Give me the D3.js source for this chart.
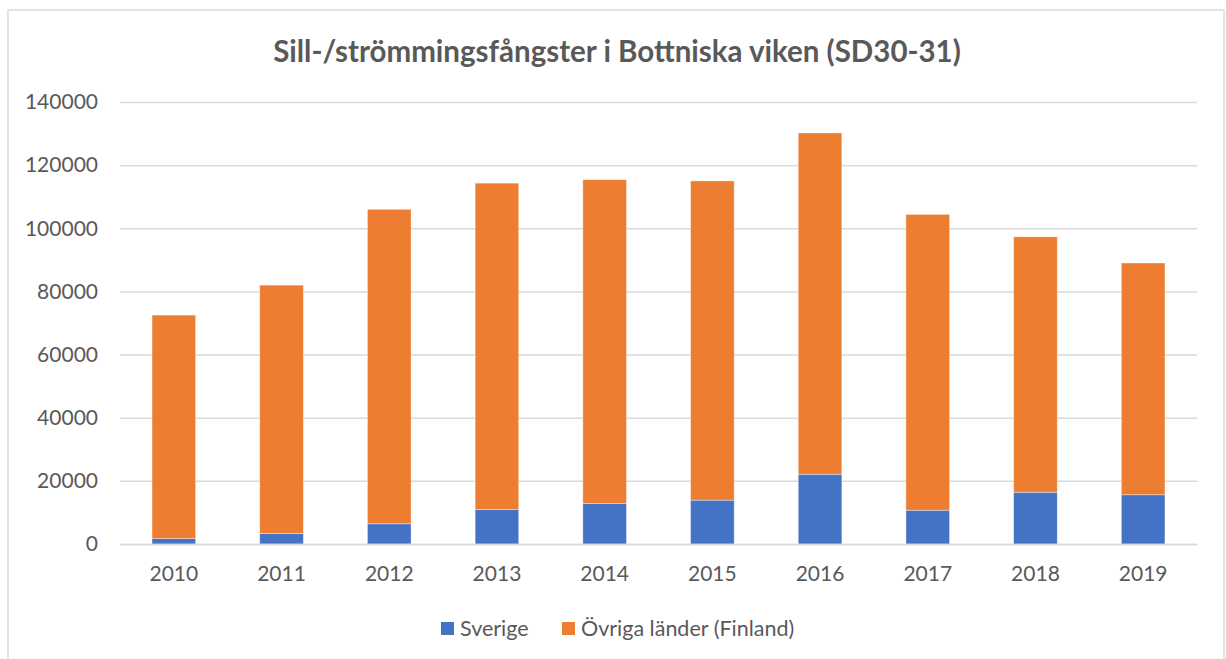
<!DOCTYPE html>
<html>
<head>
<meta charset="utf-8">
<script src="https://cdn.jsdelivr.net/npm/d3@7"></script>
<style>
  body { margin: 0; background: #fff; }
  svg { display: block; font-family: Lato, "Open Sans", sans-serif; }
</style>
</head>
<body>
<div id="chart"></div>
<script>
// values
const years = ['2010', '2011', '2012', '2013', '2014', '2015', '2016', '2017', '2018', '2019'];
const sverige = [1700, 3300, 6400, 10900, 12800, 13900, 22100, 10700, 16400, 15600];
const ovriga = [70800, 78700, 99600, 103400, 102600, 101100, 108100, 93700, 80900, 73400];
const yTicks = [0, 20000, 40000, 60000, 80000, 100000, 120000, 140000];
const seriesNames = ['Sverige', 'Övriga länder (Finland)'];
const colors = ['#4472c4', '#ed7d31'];

const width = 1226, height = 659;
const margin = { top: 102, right: 29, bottom: 115, left: 120 };

const svg = d3.select('#chart').append('svg')
  .attr('width', width)
  .attr('height', height);

// chart border
svg.append('rect')
  .attr('x', 8).attr('y', 10)
  .attr('width', 1216).attr('height', 660)
  .attr('fill', '#fff')
  .attr('stroke', '#d9d9d9')
  .attr('stroke-width', 1.5);

svg.append('text')
  .attr('x', 617).attr('y', 62)
  .attr('text-anchor', 'middle')
  .attr('font-size', 29.5)
  .attr('font-weight', 'bold')
  .attr('fill', '#595959')
  .text('Sill-/strömmingsfångster i Bottniska viken (SD30-31)');

const x = d3.scaleBand()
  .domain(years)
  .range([margin.left, width - margin.right])
  .paddingInner(0.595)
  .paddingOuter(0.2975);

const y = d3.scaleLinear()
  .domain([0, 140000])
  .range([height - margin.bottom, margin.top]);

// gridlines + y labels
const yAxis = d3.axisLeft(y)
  .tickValues(yTicks)
  .tickSize(-(width - margin.left - margin.right))
  .tickFormat(d3.format('d'))
  .tickPadding(22);

const gy = svg.append('g')
  .attr('transform', `translate(${margin.left},0)`)
  .call(yAxis);
gy.select('.domain').remove();
gy.selectAll('.tick line').attr('stroke', '#d9d9d9').attr('stroke-width', 1.5);
gy.selectAll('.tick text')
  .attr('fill', '#595959')
  .attr('font-size', 21)
  .attr('font-family', 'Lato, sans-serif');

// stacked bars
const rows = years.map((yr, i) => ({ year: yr, Sverige: sverige[i], Ovriga: ovriga[i] }));
const stack = d3.stack().keys(['Sverige', 'Ovriga'])(rows);

svg.append('g')
  .selectAll('g')
  .data(stack)
  .enter()
  .append('g')
  .attr('fill', (d, i) => colors[i])
  .selectAll('rect')
  .data(d => d)
  .enter()
  .append('rect')
  .attr('x', d => x(d.data.year))
  .attr('width', x.bandwidth())
  .attr('y', d => y(d[1]))
  .attr('height', d => y(d[0]) - y(d[1]))
  .attr('stroke', '#fff')
  .attr('stroke-opacity', 0.5)
  .attr('stroke-width', 0.75);

// x axis baseline + labels
const gx = svg.append('g')
  .attr('transform', `translate(0,${height - margin.bottom})`)
  .call(d3.axisBottom(x).tickSize(0).tickPadding(22));
gx.select('.domain').attr('stroke', '#d9d9d9').attr('stroke-width', 1.5);
gx.selectAll('.tick text')
  .attr('fill', '#595959')
  .attr('font-size', 21)
  .attr('font-family', 'Lato, sans-serif');

// legend
const legendX = [441, 562];
const legend = svg.append('g');
seriesNames.forEach((name, i) => {
  legend.append('rect')
    .attr('x', legendX[i]).attr('y', 622)
    .attr('width', 13).attr('height', 13)
    .attr('fill', colors[i]);
  legend.append('text')
    .attr('x', legendX[i] + 19).attr('y', 636)
    .attr('font-size', 21.5)
    .attr('fill', '#595959')
    .text(name);
});
</script>
</body>
</html>
